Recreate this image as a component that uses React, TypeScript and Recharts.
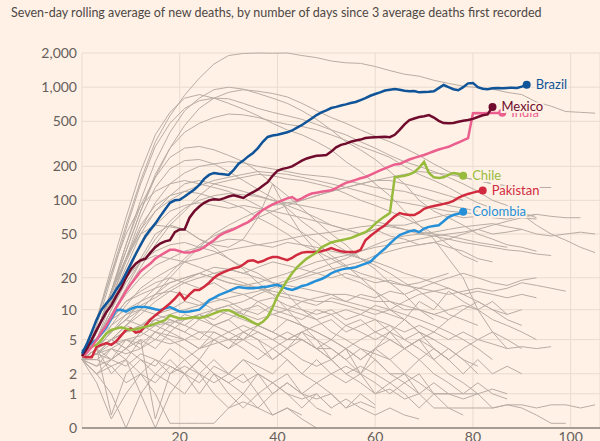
import { LineChart, Line, XAxis, YAxis, CartesianGrid } from 'recharts';

// days since 3 average deaths, grey countries sampled every 3 days
const greyDays = [0, 3, 6, 9, 12, 15, 18, 21, 24, 27, 30, 33, 36, 39, 42, 45, 48, 51, 54, 57, 60, 63, 66, 69, 72, 75, 78, 81, 84, 87, 90, 93, 96, 99, 102, 105];

const g1 = [3, 8, 22, 60, 150, 330, 560, 850, 1200, 1600, 1900, 1980, 2000, 1990, 2000, 1900, 1820, 1700, 1640, 1620, 1520, 1400, 1300, 1250, 1150, 1080, 1020, 990, 960, 900, 860, 740, 680, 610, 600, 590];
const g2 = [3, 6, 15, 35, 80, 160, 290, 460, 650, 800, 900, 950, 920, 880, 820, 720, 620, 540, 480, 420, 370, 330, 290, 250, 210, 180, 160, 150, 140, 135, 132, 130, 130];
const g3 = [3, 7, 20, 55, 140, 300, 480, 650, 760, 800, 790, 720, 650, 600, 560, 520, 470, 420, 380, 330, 290, 250, 220, 200, 180, 160, 140, 120, 100, 90, 75, 60, 50, 44, 38, 34];
const g4 = [3, 8, 25, 70, 180, 380, 600, 800, 860, 800, 720, 640, 560, 480, 420, 380, 330, 280, 220, 180, 140, 110, 80, 60, 45, 30, 20, 10, 6, 4];
const g5 = [3, 6, 15, 40, 100, 220, 400, 620, 800, 950, 1000, 960, 880, 800, 720, 620, 520, 420, 330, 280, 230, 180, 140, 100, 80, 70, 60, 50, 45, 40, 38, 35];
const g6 = [3, 6, 15, 35, 80, 170, 290, 400, 480, 540, 580, 570, 540, 500, 470, 450, 420, 380, 340, 300, 270, 240, 200, 170, 150, 130, 110, 95, 85, 80, 78, 70];
const g7 = [3, 6, 15, 40, 90, 160, 240, 290, 300, 280, 250, 220, 180, 140, 110, 85, 65, 50, 40, 30, 24, 18, 14, 10, 8];
const g8 = [3, 5, 12, 30, 70, 130, 190, 225, 230, 210, 180, 150, 125, 105, 85, 65, 52, 42, 35, 30, 26, 22, 18, 15, 12, 9, 8, 7];
const g9 = [3, 8, 22, 50, 90, 120, 140, 150, 140, 130, 120, 105, 90, 75, 62, 52, 42, 32, 26, 20, 15, 10, 8, 6, 5];
const g10 = [3, 6, 12, 25, 50, 80, 110, 140, 150, 140, 130, 120, 110, 100, 90, 80, 70, 60, 55, 50, 55, 60, 60, 65, 70, 75, 70, 72, 70, 68, 72, 75, 72, 70, 70];
const g11 = [3, 5, 9, 15, 25, 40, 60, 80, 110, 140, 150, 160, 170, 165, 155, 150, 140, 130, 115, 100, 90, 80, 70, 60, 50, 40, 32, 28];
const g12 = [3, 5, 10, 20, 40, 60, 80, 90, 95, 90, 85, 90, 85, 80, 75, 70, 65, 60, 55, 50, 55, 48, 45, 40, 42, 38, 35, 30, 28];
const g13 = [3, 4, 6, 8, 12, 16, 22, 30, 40, 48, 55, 60, 70, 80, 90, 100, 110, 120, 130, 140, 150, 160, 170, 180, 175, 170, 160, 150, 140, 130];
const g14 = [3, 4, 5, 7, 10, 14, 20, 28, 38, 50, 60, 70, 80, 90, 95, 100, 110, 120, 130, 140, 150, 150, 140, 130, 120, 110, 100];
const g15 = [3, 6, 12, 20, 30, 50, 60, 55, 45, 40, 38, 45, 70, 140, 80, 50, 35, 25, 20, 18, 15, 12, 10, 10, 9, 8];
const g16 = [3, 6, 15, 30, 60, 90, 110, 120, 115, 105, 95, 85, 70, 60, 50, 40, 35, 30, 25, 22, 20, 18, 17, 18, 20, 22];
const g17 = [3, 6, 15, 30, 50, 60, 58, 55, 45, 38, 30, 24, 18, 14, 10, 7, 5, 3, 2, 1.5, 1, 1.2, 0.8, 1];
const g18 = [3, 5, 10, 18, 28, 35, 40, 42, 38, 35, 30, 25, 22, 18, 14, 10, 8, 6, 5, 4, 3, 2, 2, 1.5, 1, 1];
const g19 = [3, 6, 12, 20, 28, 32, 30, 28, 25, 22, 20, 18, 16, 14, 13, 12, 13, 14, 12, 11, 10, 9, 8, 6, 5, 4, 3, 2.5];
const g20 = [3, 5, 8, 12, 14, 16, 18, 20, 22, 20, 18, 17, 18, 20, 22, 25, 28, 30, 32, 35, 38, 40, 42, 45, 48, 50, 52, 55, 50, 52, 55, 50, 48, 50, 52, 50];
const g21 = [3, 5, 8, 10, 12, 14, 15, 14, 12, 10, 9, 8, 7, 6, 5, 5, 4, 4, 3, 4, 3.5, 3, 4, 5, 4, 3, 4, 5, 6, 5, 4];
const g22 = [3, 4, 6, 8, 10, 14, 18, 20, 22, 20, 18, 17, 16, 15, 14, 13, 12, 12, 11, 10, 9, 10, 12, 14, 15, 14, 15, 16, 15, 16, 18, 17, 16, 15];
const g23 = [3, 4, 5, 7, 9, 12, 15, 18, 20, 22, 24, 22, 20, 18, 17, 16, 15, 14, 14, 13, 12, 12, 11, 10, 9, 10, 11, 10, 8, 7, 6, 5];
const g24 = [3, 5, 7, 9, 10, 9, 8, 7, 6, 6, 5, 5, 6, 5, 4, 5, 4, 3, 4, 5, 6, 5, 4, 5, 6, 8, 10, 12, 10, 8, 7];
const g25 = [3, 4, 5, 6, 7, 8, 9, 10, 11, 12, 13, 14, 15, 17, 19, 21, 24, 27, 30, 35, 40, 45, 48, 50, 52, 55, 58, 60, 62, 58, 55];
const g26 = [3, 2.5, 4, 3, 5, 4, 6, 5, 4, 6, 5, 4, 3, 4, 3, 2, 3, 2, 1.5, 2, 1, 1.5, 1, 0.5, 1, 0.5, 0.3];
const g27 = [3, 4, 0.3, 2, 3, 2.5, 4, 3, 2, 3, 2, 1.5, 2, 1, 1.5, 1, 0.8, 1, 0.5, 0.7, 0.5];
const g28 = [3, 3.5, 3, 4, 5, 0.2, 2, 3, 4, 5, 6, 5, 7, 6, 8, 7, 6, 5, 7, 6, 5, 6, 4, 5, 3, 4, 3, 2];
const g29 = [3, 2, 2.5, 1.5, 2, 1, 0.1, 0.1, 0.1, 0.1, 0.5, 1, 0.5, 1, 1.5, 1, 0.5, 0.3];
const g30 = [3, 3, 4, 3.5, 4, 5, 4.5, 5, 6, 5, 4, 5, 4, 3, 4, 3, 2.5, 3, 2, 2.5, 2, 1.5, 2, 1, 1.5, 1, 0.8, 1, 0.5, 0.6, 0.6, 0.5, 0.6, 0.6, 0.5, 0.6];
const g31 = [3, 3.5, 5, 6, 7, 6, 8, 7, 9, 8, 10, 9, 8, 9, 10, 9, 8, 9, 10, 9, 11, 10, 9, 8, 7, 6, 5, 4, 3];
const g32 = [3, 4, 6, 8, 7, 9, 10, 12, 11, 13, 12, 10, 11, 9, 8, 7, 6, 5, 4, 3, 4, 3, 2, 3, 2, 1.5, 1, 1.5, 1, 0.8];
const g33 = [3, 3, 2.5, 3, 2, 3, 2.5, 2, 3, 2, 1.5, 2, 1, 1.5, 1, 0.8, 1, 0.5, 0.8, 0.5, 0.3, 0.5, 0.3, 0.2];
const g34 = [3, 4, 5, 7, 6, 8, 7, 6, 8, 7, 6, 7, 6, 5, 6, 5, 4, 5, 4, 3, 4, 5, 4, 3, 4, 3, 2, 3, 2, 2.5, 2];
const g35 = [3, 5, 8, 12, 15, 18, 20, 18, 16, 18, 15, 14, 12, 13, 11, 10, 9, 10, 8, 9, 8, 7, 6, 7, 6, 5, 6, 5, 4.5, 4, 4.2, 4, 4.2];
const g36 = [3, 4, 6, 9, 11, 13, 16, 19, 22, 25, 24, 22, 25, 28, 26, 24, 22, 20, 22, 20, 18, 19, 17, 16, 15, 16, 14, 15, 14, 13, 14, 13];
const g37 = [3, 2.5, 3, 4, 3, 2, 3, 2, 1, 2, 1, 0.5, 1, 0.3, 0.5, 0.2, 0];
const g38 = [3, 3.5, 4.5, 5, 5.5, 7, 6, 8, 9, 7, 8, 10, 9, 11, 10, 12, 11, 13, 12, 14, 13, 15, 14, 16, 18, 20, 22, 20, 18, 17, 19, 20];
const g39 = [3, 4, 3, 5, 4, 6, 5, 4, 3, 5, 4, 6, 5, 3, 4, 6, 5, 4, 3, 2, 4, 6, 8, 12, 10, 15, 12, 10, 12, 9, 10];
const g40 = [3, 2, 3, 2.5, 3.5, 3, 2, 2.5, 2, 1.5, 2, 3, 2.5, 2, 3, 2, 1.5, 2, 2.5, 2, 1.5, 1, 1.5, 1, 0.5, 0.5, 0.5, 0.5, 0.5, 0.6, 0.5, 0.3, 0.1, 0.1];
const g41 = [3, 5, 9, 14, 20, 26, 30, 35, 38, 42, 45, 44, 40, 38, 42, 40, 38, 35, 33, 30, 28, 25, 22, 20, 18, 16, 14, 12, 10, 9];
const g42 = [3, 4, 7, 11, 16, 20, 24, 28, 30, 33, 36, 38, 40, 42, 45, 48, 50, 52, 55, 58, 60, 58, 55, 52, 50, 48, 45, 42, 40, 38];
const g43 = [3, 4, 5, 6, 6.5, 7, 7.5, 8, 9, 10, 11, 12, 14, 16, 18, 20, 22, 24, 26, 28, 32, 35, 38, 40, 42, 45, 50, 55, 60, 65, 70, 75];
const g44 = [3, 1.5, 0.2, 1, 2, 1.5, 2.5, 2, 3, 2, 1.5, 1, 2, 1.5, 1, 0.5, 1, 0.5];
const g45 = [3, 2, 1, 0, 1, 2, 1.5, 1, 2, 1, 0.5, 0.7, 0.5, 0.3, 0.5, 0.3];
const g46 = [3, 4, 5, 4, 6, 5, 7, 6, 5, 7, 8, 6, 5, 4, 5, 6, 4, 3, 4, 2, 3, 2, 1.5, 2, 1, 1, 1, 1, 1.2, 1];
const g47 = [3, 3.5, 4, 5, 4.5, 6, 5.5, 5, 4, 4.5, 5, 6, 7, 6, 5, 6, 7, 8, 6, 7, 8, 6, 5, 4, 3, 2, 1.5, 1];
const g48 = [3, 6, 13, 28, 55, 95, 140, 175, 200, 210, 220, 215, 200, 190, 180, 170, 165, 160, 150, 140, 130, 125, 120, 110, 100, 90, 85, 80];
const g49 = [3, 6, 14, 30, 55, 80, 100, 120, 135, 150, 160, 170, 180, 175, 170, 160, 150, 140, 130, 120, 110, 100, 95, 90, 85, 80, 78, 75, 74, 72, 70, 68];
const g50 = [3, 5, 9, 16, 28, 45, 65, 85, 100, 110, 115, 112, 108, 100, 95, 90, 85, 80, 75, 70, 65, 60, 55, 50, 48, 45, 42, 40, 38, 36, 35, 33, 32];
const g51 = [3, 4, 2, 3, 1, 0, 1, 2, 1.5, 2.5, 2, 3, 2, 1.5, 2, 1, 1.5, 1, 0.5, 1, 0.6];
const g52 = [3, 3.5, 5, 4, 6, 8, 7, 9, 8, 10, 11, 9, 12, 10, 9, 8, 10, 9, 7, 8, 6, 7, 5, 6, 4, 3];

const greySeries = [g1, g2, g3, g4, g5, g6, g7, g8, g9, g10, g11, g12, g13, g14, g15, g16, g17, g18, g19, g20, g21, g22, g23, g24, g25, g26,
  g27, g28, g29, g30, g31, g32, g33, g34, g35, g36, g37, g38, g39, g40, g41, g42, g43, g44, g45, g46, g47, g48, g49, g50, g51, g52];

// highlighted countries, one value per day from day 0
const brazil = [3.5, 4.5, 6, 8, 10, 11.5, 13, 15.5, 18, 22, 27, 33, 40, 48, 55, 62, 72, 83, 95, 100, 101, 108, 116, 125, 137, 155, 168, 175, 172, 170,
  168, 185, 210, 225, 245, 263, 290, 330, 364, 375, 380, 390, 400, 415, 440, 464, 495, 530, 568, 600, 625, 655, 670, 690, 705, 725, 740, 770, 800, 840,
  870, 900, 935, 950, 963, 950, 930, 920, 925, 900, 905, 910, 920, 980, 1045, 1000, 960, 940, 1000, 1080, 1090, 1000, 970, 960, 980, 985, 980, 985, 990, 985, 1010, 1050];
const mexico = [3.3, 4, 5, 6.3, 7.8, 9.5, 11, 13.5, 16, 20, 24, 27, 29, 30, 34, 38, 41, 43, 44, 52, 55, 55, 70, 80, 88, 95, 100, 102, 101, 104,
  108, 111, 108, 105, 112, 118, 125, 135, 145, 165, 183, 190, 194, 200, 212, 225, 235, 242, 248, 250, 252, 270, 295, 310, 318, 330, 338, 345, 356, 360,
  362, 364, 365, 362, 380, 420, 470, 513, 530, 546, 555, 568, 540, 505, 483, 480, 483, 495, 505, 513, 525, 546, 565, 575, 670];
const india = [3.3, 3.6, 4.2, 5, 6, 7, 8.5, 10.5, 12.5, 15, 17.5, 20, 23, 25, 27, 30, 32, 34, 36, 36, 35, 34, 34, 35, 36, 38, 41, 44, 48, 51,
  53, 55, 58, 61, 64, 69, 76, 82, 87, 92, 96, 100, 104, 107, 100, 104, 110, 115, 117, 119, 121, 123, 128, 136, 143, 147, 152, 157, 161, 168,
  176, 184, 192, 200, 208, 210, 220, 230, 238, 245, 252, 262, 272, 282, 290, 298, 312, 325, 340, 355, 590, 592, 590, 592, 592, 592, 595];
const chile = [3.3, 3.8, 4.2, 4.4, 5, 5.8, 6.3, 6.5, 6.7, 6.5, 6.3, 6.4, 6.6, 6.8, 7, 7.3, 7.6, 7.9, 8.8, 8.5, 8.2, 8.2, 8.3, 8.5, 8.3, 8.5, 8.8, 9.2, 9.6, 9.9,
  9.9, 9.4, 8.8, 8.5, 8, 7.5, 7.1, 7.6, 8.5, 10.5, 13.5, 16, 19, 22, 25, 27.5, 30, 32, 34, 38, 40, 42, 43, 44, 45, 46, 48, 50, 52, 56,
  62, 67, 72, 77, 160, 163, 165, 170, 178, 195, 219, 175, 160, 158, 160, 168, 175, 172, 165];
const pakistan = [3.3, 3.2, 3.2, 4.2, 4.4, 4.6, 4.4, 4.8, 5.5, 6.3, 6.5, 5.9, 6.1, 7, 8, 8.8, 9.6, 10.5, 11.5, 12.8, 14.4, 12.5, 14, 15.4, 15.4, 16.5, 18, 20, 21.5, 22.6,
  23.5, 24.5, 25, 26.5, 28.5, 29, 27.7, 28.5, 30, 31, 31, 30, 29, 30.5, 32.5, 34, 34.5, 34.5, 34.5, 35, 36, 37.4, 36, 35, 34.5, 34.5, 34.5, 36, 44, 48,
  52, 56, 60, 66, 72, 77, 75, 74, 74, 78, 84, 87, 89, 91, 93, 95, 99, 105, 110, 114, 117, 120, 122];
const colombia = [3.7, 4.2, 4.6, 5, 5.8, 6.7, 8.2, 9.9, 10, 9.6, 10.2, 10.6, 10.6, 10.6, 10.4, 10.1, 9.9, 10.3, 10.6, 10.1, 9.6, 9.5, 9.6, 9.8, 10, 11, 12.3, 13, 13.8, 14.4,
  15, 15.8, 16.4, 16.2, 16, 16, 16.2, 16.4, 16.6, 17, 17.2, 16.5, 15.8, 15.4, 16, 16.8, 17.2, 18, 18.8, 19.5, 20.5, 22, 23, 23.8, 24.3, 24.6, 25, 26, 27, 28,
  31, 34, 37, 41, 45, 49, 51, 53, 54, 52, 56, 58, 59, 60, 65, 71, 74, 76, 79];

const highlights = [
  { name: 'Colombia', values: colombia, colour: '#2590d8' },
  { name: 'Pakistan', values: pakistan, colour: '#d12a3f' },
  { name: 'Chile', values: chile, colour: '#97bb3c' },
  { name: 'India', values: india, colour: '#eb5f8e' },
  { name: 'Mexico', values: mexico, colour: '#700b2e' },
  { name: 'Brazil', values: brazil, colour: '#0f5499' }
];

const yTicks = [0, 1, 2, 5, 10, 20, 50, 100, 200, 500, 1000, 2000];
const xTicks = [20, 40, 60, 80, 100];

const BG = '#fff1e5';
const GRID = '#e9dccf';
const GREY = '#b8ada5';
const TEXT = '#66605c';

function greyPoints(values: number[]) {
	return values.map((v, i) => ({day: greyDays[i], v}));
}

function dayPoints(values: number[]) {
	return values.map((v, i) => ({day: i, v}));
}

function endLabel(name: string, colour: string, last: number) {
	return (props: any) => {
		const {cx, cy, index} = props;
		if (index !== last) return <g key={`${name}-${index}`} />;
		return (
			<g key={`${name}-end`}>
				<circle cx={cx} cy={cy} r={4} fill={colour} />
				<text
					x={cx + 9}
					y={cy}
					dy="0.35em"
					fill={colour}
					stroke={BG}
					strokeWidth={4}
					paintOrder="stroke"
					fontSize={13}
				>
					{name}
				</text>
			</g>
		);
	};
}

export default function App() {
	return (
		<div
			style={{
				position: 'absolute',
				left: 0,
				top: 0,
				width: 600,
				height: 441,
				overflow: 'hidden',
				background: BG,
				fontFamily: 'Lato, "Noto Sans", sans-serif'
			}}
		>
			<div style={{position: 'absolute', left: 11, top: 5, fontSize: 12.5, lineHeight: '15px', color: '#4e4845', whiteSpace: 'nowrap'}}>
				Seven-day rolling average of new deaths, by number of days since 3 average deaths first recorded
			</div>
			<LineChart width={600} height={441} margin={{top: 53, right: 0, bottom: 0, left: 22}}>
				<CartesianGrid stroke={GRID} strokeWidth={1} />
				<XAxis
					dataKey="day"
					type="number"
					domain={[0, 106]}
					ticks={xTicks}
					interval={0}
					height={13}
					tickLine={false}
					tickSize={0}
					tickMargin={4}
					axisLine={{stroke: '#8a837e', strokeWidth: 1.5}}
					tick={{fill: TEXT, fontSize: 14}}
					allowDuplicatedCategory={false}
				/>
				<YAxis
					dataKey="v"
					scale="symlog"
					type="number"
					domain={[0, 2000]}
					ticks={yTicks}
					interval={0}
					width={60}
					tickLine={false}
					tickSize={0}
					tickMargin={5}
					axisLine={false}
					tick={{fill: TEXT, fontSize: 14}}
					tickFormatter={(v: number) => v.toLocaleString('en-US')}
				/>
				{greySeries.map((s, i) => (
					<Line
						key={`g${i}`}
						data={greyPoints(s)}
						dataKey="v"
						type="linear"
						stroke={GREY}
						strokeWidth={1}
						dot={false}
						activeDot={false}
						isAnimationActive={false}
					/>
				))}
				{highlights.map((h) => (
					<Line
						key={h.name}
						data={dayPoints(h.values)}
						dataKey="v"
						type="linear"
						stroke={h.colour}
						strokeWidth={2.5}
						dot={endLabel(h.name, h.colour, h.values.length - 1)}
						activeDot={false}
						isAnimationActive={false}
					/>
				))}
			</LineChart>
		</div>
	);
}
